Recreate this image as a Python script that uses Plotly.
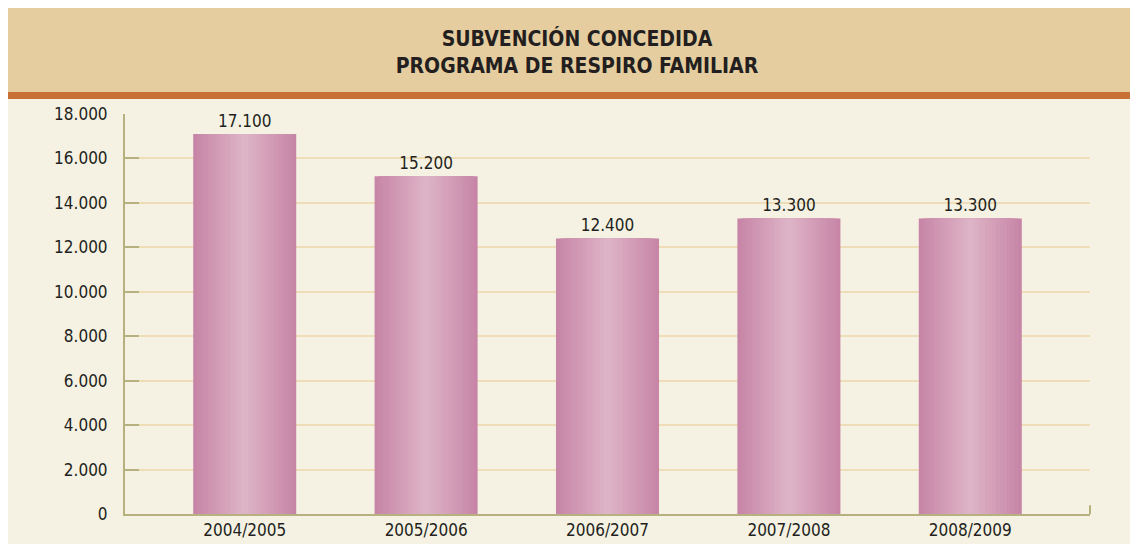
import plotly.graph_objects as go

# datos
periodos = ["2004/2005", "2005/2006", "2006/2007", "2007/2008", "2008/2009"]
subvencion = [17100, 15200, 12400, 13300, 13300]

FONT = "Liberation Sans Narrow, Arial Narrow, DejaVu Sans Condensed, Roboto, sans-serif"
TXT = "#231F20"

fig = go.Figure()

# barras con degradado horizontal: capas superpuestas cada vez mas estrechas y claras
n = 14
edge = (199, 134, 167)
center = (221, 179, 198)
bar_w = 0.568
for k in range(n):
    t = k / (n - 1)
    col = "rgb(%d,%d,%d)" % tuple(round(e + (c - e) * t) for e, c in zip(edge, center))
    fig.add_trace(go.Bar(
        x=periodos, y=subvencion,
        width=bar_w * (1 - k / n),
        marker=dict(color=col, line=dict(width=0)),
        text=subvencion if k == 0 else None,
        texttemplate="%{y:,d}" if k == 0 else None,
        textposition="outside" if k == 0 else "none",
        textfont=dict(family=FONT, size=17, color=TXT),
        cliponaxis=False,
        hoverinfo="skip" if k else "x+y",
        showlegend=False,
    ))

fig.update_layout(
    width=1138, height=544,
    barmode="overlay",
    separators=",.",
    paper_bgcolor="#F5F2E3",
    plot_bgcolor="rgba(0,0,0,0)",
    margin=dict(l=117, r=56, t=106, b=36),
    font=dict(family=FONT, size=17, color=TXT),
    title=dict(
        text="<b>SUBVENCIÓN CONCEDIDA<br>PROGRAMA DE RESPIRO FAMILIAR</b>",
        x=0.5, xanchor="center", y=1 - 38 / 544, yanchor="middle",
        font=dict(family=FONT, size=21, color=TXT),
    ),
    xaxis=dict(
        range=[-0.66, 4.66], showgrid=False, zeroline=False,
        showline=True, linecolor="#B7B07F", linewidth=2,
        ticks="", tickfont=dict(size=17),
    ),
    yaxis=dict(
        range=[0, 18000], dtick=2000, tickformat=",d",
        showgrid=True, gridcolor="#EEDDB6", gridwidth=2,
        zeroline=False, showline=True, linecolor="#B7B07F", linewidth=2,
        ticks="inside", ticklen=14, tickcolor="#B7B07F", tickwidth=2,
        ticklabelstandoff=12, tickfont=dict(size=17),
    ),
    shapes=[
        # franja de cabecera
        dict(type="rect", xref="paper", yref="paper", x0=-0.2, x1=1.1,
             y0=1.0547, y1=1.3, fillcolor="#E5CD9F", line_width=0, layer="below"),
        # linea naranja
        dict(type="rect", xref="paper", yref="paper", x0=-0.2, x1=1.1,
             y0=1.0373, y1=1.0547, fillcolor="#C87137", line_width=0, layer="below"),
        # marca final del eje x
        dict(type="line", xref="paper", yref="paper", x0=1, x1=1,
             y0=0, y1=0.022, line=dict(color="#B7B07F", width=2)),
    ],
)

fig.write_html("out.html")
